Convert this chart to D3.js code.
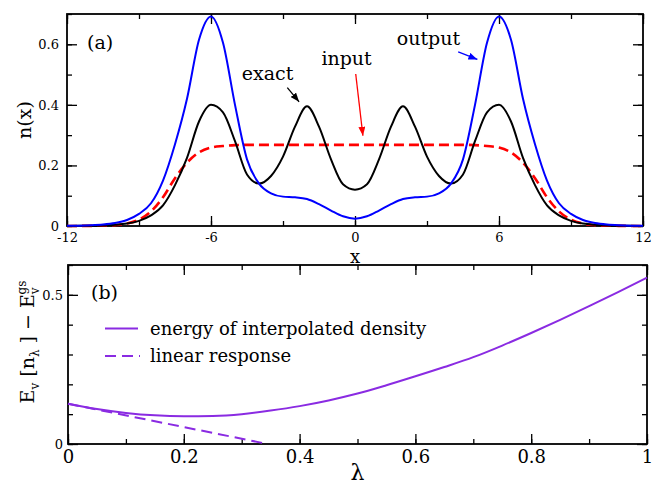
<!DOCTYPE html>
<html>
<head>
<meta charset="utf-8">
<script src="https://cdn.jsdelivr.net/npm/d3@7"></script>
<style>
  body { margin: 0; background: #fff; }
  svg text { font-family: "DejaVu Serif", serif; }
</style>
</head>
<body>
<div class="canvas"></div>
<script>
// ---- data ----
// panel (a): densities on x = -12 .. 12, step 0.5
const xGrid = d3.range(-12, 12.01, 0.5);

const exactN = [
  0.0002, 0.0005, 0.001, 0.002, 0.004, 0.008, 0.017, 0.035, 0.068, 0.135, 0.225, 0.345,
  0.400, 0.375, 0.280, 0.170, 0.140, 0.165, 0.229, 0.328, 0.395, 0.328, 0.220, 0.138,
  0.120,
  0.138, 0.220, 0.328, 0.395, 0.328, 0.229, 0.165, 0.140, 0.170, 0.280, 0.375, 0.400,
  0.345, 0.225, 0.135, 0.068, 0.035, 0.017, 0.008, 0.004, 0.002, 0.001, 0.0005, 0.0002
];

const outputN = [
  0.0006, 0.0012, 0.0025, 0.005, 0.010, 0.020, 0.040, 0.075, 0.150, 0.270, 0.420, 0.615,
  0.692, 0.605, 0.400, 0.220, 0.140, 0.108, 0.097, 0.095, 0.089, 0.072, 0.051, 0.032,
  0.024,
  0.032, 0.051, 0.072, 0.089, 0.095, 0.097, 0.108, 0.140, 0.220, 0.400, 0.605, 0.692,
  0.615, 0.420, 0.270, 0.150, 0.075, 0.040, 0.020, 0.010, 0.005, 0.0025, 0.0012, 0.0006
];

const inputN = [
  0.0001, 0.0002, 0.0005, 0.0012, 0.003, 0.008, 0.021, 0.048, 0.095, 0.158, 0.209, 0.243,
  0.259, 0.264, 0.267, 0.268, 0.268, 0.268, 0.268, 0.268, 0.268, 0.268, 0.268, 0.268,
  0.268,
  0.268, 0.268, 0.268, 0.268, 0.268, 0.268, 0.268, 0.268, 0.268, 0.267, 0.264, 0.259,
  0.243, 0.209, 0.158, 0.095, 0.048, 0.021, 0.008, 0.003, 0.0012, 0.0005, 0.0002, 0.0001
];

// panel (b): energy vs lambda
const lambdas = [0, 0.05, 0.1, 0.15, 0.2, 0.25, 0.3, 0.35, 0.4, 0.45, 0.5,
                 0.55, 0.6, 0.65, 0.7, 0.75, 0.8, 0.85, 0.9, 0.95, 1];
const energy = [0.135, 0.117, 0.104, 0.096, 0.093, 0.094, 0.100, 0.112, 0.127, 0.146, 0.169,
                0.197, 0.227, 0.258, 0.291, 0.330, 0.372, 0.416, 0.462, 0.509, 0.558];
const linLambda = [0, 0.345];
const linEnergy = [0.135, 0];

// tick values
const xTicksA = [-12, -6, 0, 6, 12];
const yTicksA = [0, 0.2, 0.4, 0.6];
const xTicksB = [0, 0.2, 0.4, 0.6, 0.8, 1];
const yTicksB = [0, 0.5];

// annotations in data coords of panel (a)
const notes = [
  { text: "exact",  tx: -4.72, ty: 0.482, from: [-2.82, 0.457], to: [-2.33, 0.410], color: "#000" },
  { text: "input",  tx: -1.40, ty: 0.532, from: [0.03, 0.502],  to: [0.33, 0.298],  color: "#ff0000" },
  { text: "output", tx: 1.74,  ty: 0.599, from: [4.30, 0.575],  to: [5.10, 0.550],  color: "#0000ff" }
];

// ---- layout ----
const width = 658, height = 489;
const purple = "#8a2be2";

const svg = d3.select(".canvas").append("svg")
  .attr("width", width)
  .attr("height", height);

const defs = svg.append("defs");
["#000", "#ff0000", "#0000ff"].forEach((c, i) => {
  defs.append("marker")
    .attr("id", "arrow" + i)
    .attr("markerUnits", "userSpaceOnUse")
    .attr("markerWidth", 9).attr("markerHeight", 7)
    .attr("refX", 9).attr("refY", 3.5)
    .attr("orient", "auto")
    .append("path")
    .attr("d", "M0,0 L9,3.5 L0,7 Z")
    .attr("fill", c);
});

const xA = d3.scaleLinear().domain([-12, 12]).range([67, 643]);
const yA = d3.scaleLinear().domain([0, 0.7]).range([226, 14]);
const xB = d3.scaleLinear().domain([0, 1]).range([68, 647]);
const yB = d3.scaleLinear().domain([0, 0.6]).range([444, 265]);

// frame + inward ticks on all four sides
function frame(x, y, o) {
  const g = svg.append("g");
  const [x0, x1] = x.range();
  const [y0, y1] = y.range();
  const fmt = (d) => String(d);

  const put = (axis, tx, ty) => {
    const a = g.append("g").attr("transform", `translate(${tx},${ty})`).call(axis);
    a.attr("font-family", null);
    a.select(".domain").remove();
    a.selectAll("line").attr("stroke", "#000").attr("stroke-width", 1.3);
    return a;
  };

  // minor
  put(d3.axisBottom(x).tickValues(o.xMinor).tickSize(-5).tickFormat(""), 0, y0);
  put(d3.axisTop(x).tickValues(o.xMinor).tickSize(-5).tickFormat(""), 0, y1);
  put(d3.axisLeft(y).tickValues(o.yMinor).tickSize(-5).tickFormat(""), x0, 0);
  put(d3.axisRight(y).tickValues(o.yMinor).tickSize(-5).tickFormat(""), x1, 0);
  // major
  const bx = put(d3.axisBottom(x).tickValues(o.xMajor).tickSize(-10).tickPadding(o.xPad).tickFormat(fmt), 0, y0);
  put(d3.axisTop(x).tickValues(o.xMajor).tickSize(-10).tickFormat(""), 0, y1);
  const ly = put(d3.axisLeft(y).tickValues(o.yMajor).tickSize(-10).tickPadding(o.yPad).tickFormat(fmt), x0, 0);
  put(d3.axisRight(y).tickValues(o.yMajor).tickSize(-10).tickFormat(""), x1, 0);

  bx.attr("font-size", o.xFont);
  ly.attr("font-size", o.yFont);
  bx.selectAll("text").attr("fill", "#000");
  ly.selectAll("text").attr("fill", "#000");

  g.append("rect")
    .attr("x", x0).attr("y", y1)
    .attr("width", x1 - x0).attr("height", y0 - y1)
    .attr("fill", "none").attr("stroke", "#000").attr("stroke-width", 1.8);
}

frame(xA, yA, {
  xMajor: xTicksA, xMinor: d3.range(-12, 12.01, 3),
  yMajor: yTicksA, yMinor: d3.range(0, 0.701, 0.1),
  xPad: 7, yPad: 8, xFont: 13, yFont: 13
});
frame(xB, yB, {
  xMajor: xTicksB, xMinor: d3.range(0, 1.001, 0.1),
  yMajor: yTicksB, yMinor: d3.range(0, 0.601, 0.1),
  xPad: 6, yPad: 5, xFont: 18, yFont: 13
});

// ---- panel (a) curves ----
const lineA = d3.line()
  .x((d) => xA(d[0]))
  .y((d) => yA(d[1]))
  .curve(d3.curveMonotoneX);

const zipA = (vals) => xGrid.map((x, i) => [x, vals[i]]);

svg.append("path").attr("d", lineA(zipA(inputN)))
  .attr("fill", "none").attr("stroke", "#ff0000").attr("stroke-width", 2.6)
  .attr("stroke-dasharray", "10,5");
svg.append("path").attr("d", lineA(zipA(exactN)))
  .attr("fill", "none").attr("stroke", "#000").attr("stroke-width", 2);
svg.append("path").attr("d", lineA(zipA(outputN)))
  .attr("fill", "none").attr("stroke", "#0000ff").attr("stroke-width", 2);

notes.forEach((n, i) => {
  svg.append("text")
    .attr("x", xA(n.tx)).attr("y", yA(n.ty))
    .attr("font-size", 19)
    .text(n.text);
  svg.append("line")
    .attr("x1", xA(n.from[0])).attr("y1", yA(n.from[1]))
    .attr("x2", xA(n.to[0])).attr("y2", yA(n.to[1]))
    .attr("stroke", n.color).attr("stroke-width", 1.3)
    .attr("marker-end", `url(#arrow${i})`);
});

const txt = (x, y, size, s) =>
  svg.append("text").attr("x", x).attr("y", y)
    .attr("font-size", size).text(s);

txt(87, 49, 19, "(a)");

svg.append("text")
  .attr("transform", "translate(31,120) rotate(-90)")
  .attr("text-anchor", "middle")
  .attr("font-size", 19)
  .text("n(x)");

txt(xA(0), 263, 18, "x").attr("text-anchor", "middle");

// ---- panel (b) curves ----
const lineB = d3.line()
  .x((d) => xB(d[0]))
  .y((d) => yB(d[1]))
  .curve(d3.curveMonotoneX);

svg.append("path").attr("d", lineB(lambdas.map((l, i) => [l, energy[i]])))
  .attr("fill", "none").attr("stroke", purple).attr("stroke-width", 2);
svg.append("path").attr("d", lineB(linLambda.map((l, i) => [l, linEnergy[i]])))
  .attr("fill", "none").attr("stroke", purple).attr("stroke-width", 2)
  .attr("stroke-dasharray", "11,6");

txt(91, 299, 19, "(b)");

// legend
svg.append("line").attr("x1", 105).attr("x2", 138).attr("y1", 328.5).attr("y2", 328.5)
  .attr("stroke", purple).attr("stroke-width", 2);
txt(150, 335, 18, "energy of interpolated density");
svg.append("line").attr("x1", 105).attr("x2", 140).attr("y1", 356).attr("y2", 356)
  .attr("stroke", purple).attr("stroke-width", 2).attr("stroke-dasharray", "11,6");
txt(150, 362, 18, "linear response");

// y label of (b): E_v [n_λ] − E_v^gs
const yl = svg.append("text")
  .attr("transform", "translate(34,342) rotate(-90)")
  .attr("text-anchor", "middle")
  .attr("font-size", 19);
yl.append("tspan").text("E");
yl.append("tspan").attr("font-size", 12).attr("dy", 5).text("v");
yl.append("tspan").attr("dy", -5).text(" [n");
yl.append("tspan").attr("font-size", 12).attr("dy", 5).text("λ");
yl.append("tspan").attr("dy", -5).text(" ] − E");
yl.append("tspan").attr("font-size", 12).attr("dy", 5).text("v");
yl.append("tspan").attr("font-size", 12).attr("dx", -7).attr("dy", -13).text("gs");

txt(xB(0.5), 480, 22, "λ").attr("text-anchor", "middle");
</script>
</body>
</html>
